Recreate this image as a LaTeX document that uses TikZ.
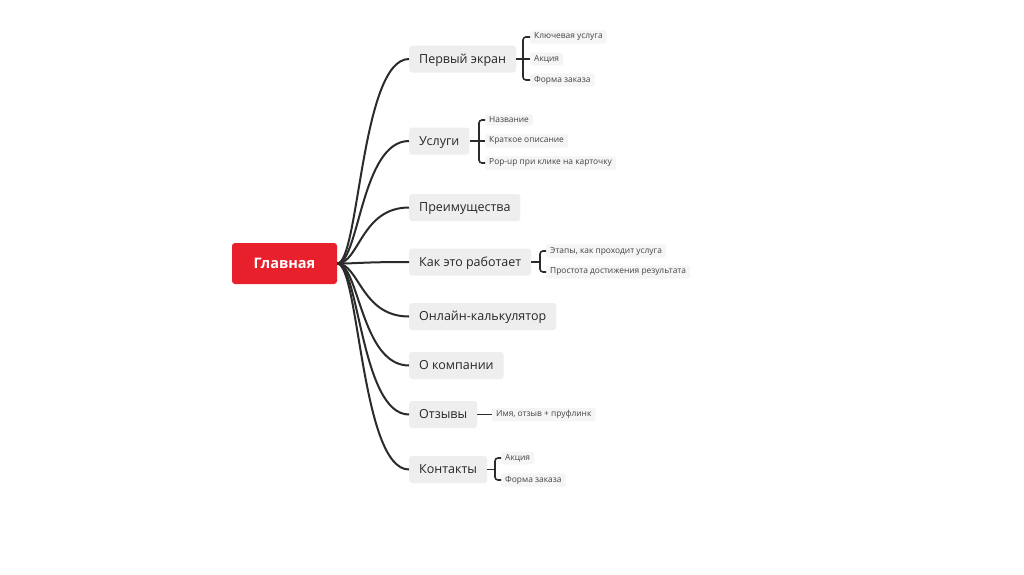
\documentclass[tikz,border=0pt]{standalone}
\usepackage{fontspec}
\setmainfont{Open Sans}
\definecolor{boxgray}{HTML}{EEEEEE}
\definecolor{leafgray}{HTML}{F5F5F5}
\definecolor{mainred}{HTML}{E8202C}
\definecolor{txt}{HTML}{262626}
\definecolor{leaftxt}{HTML}{444444}
\definecolor{linec}{HTML}{2B2B2B}
\begin{document}
\begin{tikzpicture}[x=1pt,y=-1pt,
  topic/.style={fill=boxgray, rounded corners=3pt, minimum height=27pt, inner xsep=10pt, inner ysep=0pt, text height=9pt, text depth=0.5pt, anchor=west, text=txt, font=\fontsize{12.5}{14}\selectfont},
  leaf/.style={fill=leafgray, rounded corners=2pt, inner xsep=4pt, inner ysep=2.5pt, anchor=west, text=leaftxt, font=\fontsize{8.4}{10}\selectfont},
  conn/.style={draw=linec, line width=2pt},
  br/.style={draw=linec, line width=1.6pt, rounded corners=3pt}]
\useasboundingbox[fill=white] (0,0) rectangle (1024,574);
\node[fill=mainred, rounded corners=3pt, minimum width=105pt, minimum height=41pt, text height=10.5pt, text depth=0.5pt, text=white, font=\fontsize{14.5}{16}\selectfont\bfseries] (main) at (284.5,263.5) {Главная};
\node[topic] (t1) at (409,59) {Первый экран};
\node[topic] (t2) at (409,141) {Услуги};
\node[topic] (t3) at (409,207.5) {Преимущества};
\node[topic] (t4) at (409,262) {Как это работает};
\node[topic] (t5) at (409,316.5) {Онлайн-калькулятор};
\node[topic] (t6) at (409,365.5) {О компании};
\node[topic] (t7) at (409,414.5) {Отзывы};
\node[topic] (t8) at (409,469.5) {Контакты};
\foreach \t in {t1,t2,t3,t4,t5,t6,t7,t8}
  \draw[conn] (main.east) .. controls +(22,0) and +(-48,0) .. (\t.west);
% Первый экран leaves
\node[leaf] (l11) at (530,37) {Ключевая услуга};
\node[leaf] (l12) at (530,59) {Акция};
\node[leaf] (l13) at (530,80) {Форма заказа};
\coordinate (b1) at (523,59);
\draw[br] (t1.east) -- (l12.west);
\draw[br] (l11.west) -| (b1) |- (l13.west);
% Услуги leaves
\node[leaf] (l21) at (485,120) {Название};
\node[leaf] (l22) at (485,141) {Краткое описание};
\node[leaf] (l23) at (485,163) {Pop-up при клике на карточку};
\coordinate (b2) at (479,141);
\draw[br] (t2.east) -- (l22.west);
\draw[br] (l21.west) -| (b2) |- (l23.west);
% Как это работает leaves
\node[leaf] (l41) at (546,251) {Этапы, как проходит услуга};
\node[leaf] (l42) at (546,272) {Простота достижения результата};
\coordinate (b4) at (540,262);
\draw[br] (t4.east) -- (b4);
\draw[br] (l41.west) -| (b4) |- (l42.west);
% Отзывы leaf
\node[leaf] (l71) at (492,414.5) {Имя, отзыв + пруфлинк};
\draw[br] (t7.east) -- (l71.west);
% Контакты leaves
\node[leaf] (l81) at (501,458) {Акция};
\node[leaf] (l82) at (501,480) {Форма заказа};
\coordinate (b8) at (495,469.5);
\draw[br] (t8.east) -- (b8);
\draw[br] (l81.west) -| (b8) |- (l82.west);
\end{tikzpicture}
\end{document}
